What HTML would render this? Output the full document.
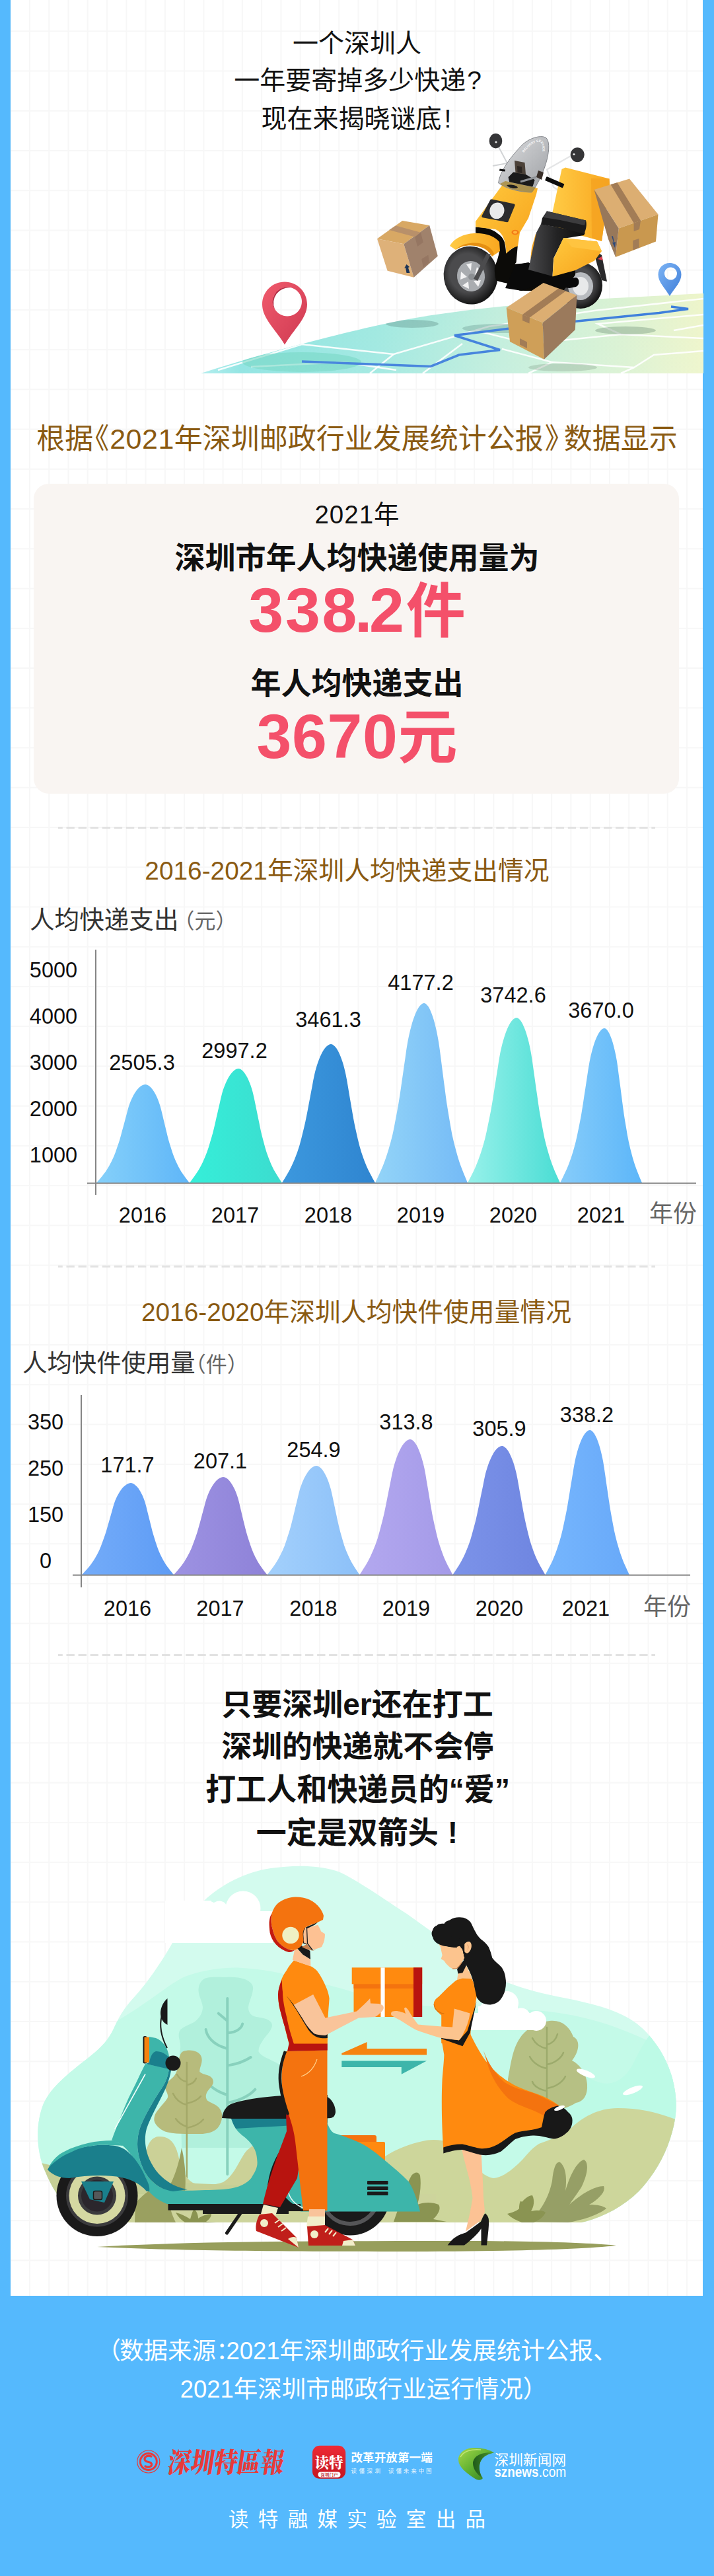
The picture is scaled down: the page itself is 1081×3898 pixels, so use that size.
<!DOCTYPE html>
<html lang="zh-CN">
<head>
<meta charset="utf-8">
<title>一个深圳人一年要寄掉多少快递</title>
<style>
html,body{margin:0;padding:0}
html,body{width:1081px;height:3898px;overflow:hidden}
#page{width:1081px;height:3898px;position:relative;overflow:hidden;background:#55b9fd;
 font-family:"Liberation Sans","Noto Sans CJK SC",sans-serif;color:#111}
#paper{position:absolute;left:16px;top:0;width:1048px;height:3473.5px;background-color:#fff;
 background-image:linear-gradient(to right,#f7f7f7 2px,transparent 2px),linear-gradient(to bottom,#f7f7f7 2px,transparent 2px);
 background-size:29.28px 60.24px;background-position:28px 46.3px}
.c{position:absolute;left:0;width:1081px;text-align:center;white-space:nowrap}
.a{position:absolute;white-space:nowrap}
.hd{font-size:39px;line-height:58px;color:#111}
.gold{color:#8a5a12}
.bold{font-weight:700}
.red{color:#f4506a;font-weight:700}
.bn{font-size:95px;letter-spacing:2.7px}
.dash{position:absolute;left:87.5px;width:904.7px;height:2.6px;background-image:linear-gradient(90deg,#e2e2e2 12px,transparent 12px);background-size:18.08px 100%;background-position:-5.6px 0;background-repeat:repeat-x}
.yl{position:absolute;font-size:32.5px;line-height:40px;width:80px;text-align:center;color:#111}
.vl{position:absolute;font-size:32.5px;line-height:40px;width:140px;text-align:center;color:#111}
.ft{color:#fff;font-size:36.5px;line-height:50px}
svg{position:absolute;left:0;top:0;overflow:visible}
</style>
</head>
<body>
<div id="page">
<div id="paper"></div>

<!-- header -->
<div class="c hd" style="top:37px">一个深圳人</div>
<div class="c hd" style="top:93px;left:1px">一年要寄掉多少快递<span style="margin-left:2px">?</span></div>
<div class="c hd" style="top:151px;left:-1px">现在来揭晓谜底<span style="margin-left:4px">!</span></div>

<!-- HERO_ILLUSTRATION -->
<svg width="1081" height="620" viewBox="0 0 1081 620">
<defs>
<linearGradient id="mapg" x1="304" x2="1065" y1="0" y2="0" gradientUnits="userSpaceOnUse">
<stop offset="0" stop-color="#93e6e6" stop-opacity="0.75"/><stop offset="0.08" stop-color="#8be3e1"/><stop offset="0.35" stop-color="#9ee8e0"/><stop offset="0.6" stop-color="#c2eedc"/><stop offset="0.85" stop-color="#dbf2d2"/><stop offset="1" stop-color="#eef5ca"/>
</linearGradient>
<linearGradient id="mapfade" x1="0" x2="0" y1="440" y2="565" gradientUnits="userSpaceOnUse">
<stop offset="0" stop-color="#fff" stop-opacity="0"/><stop offset="1" stop-color="#fff" stop-opacity="0.08"/></linearGradient>
<clipPath id="mapclip"><path d="M304,565 C400,534 520,503 592,488 C680,470 800,458 913,452 L1065,444 V565Z"/></clipPath>
<linearGradient id="yel" x1="0" x2="1" y1="0" y2="1"><stop offset="0" stop-color="#ffc93e"/><stop offset="1" stop-color="#f7a21b"/></linearGradient>
<linearGradient id="yel2" x1="0" x2="1" y1="0" y2="0"><stop offset="0" stop-color="#ffcb45"/><stop offset="1" stop-color="#f9a720"/></linearGradient>
<linearGradient id="dark" x1="0" x2="1" y1="0" y2="0"><stop offset="0" stop-color="#4a4a4c"/><stop offset="0.5" stop-color="#232324"/><stop offset="1" stop-color="#0c0c0c"/></linearGradient>
<linearGradient id="ws" x1="0" x2="1" y1="0" y2="1"><stop offset="0" stop-color="#d9dadc"/><stop offset="1" stop-color="#8e9196"/></linearGradient>
<radialGradient id="tire" cx="0.45" cy="0.45" r="0.55"><stop offset="0.6" stop-color="#4b4b4d"/><stop offset="1" stop-color="#151515"/></radialGradient>
<linearGradient id="redpin" x1="0" x2="1" y1="0" y2="1"><stop offset="0" stop-color="#f05a6c"/><stop offset="1" stop-color="#cf3a52"/></linearGradient>
<linearGradient id="bluepin" x1="0" x2="1" y1="0" y2="1"><stop offset="0" stop-color="#7db4f5"/><stop offset="1" stop-color="#3f7ed8"/></linearGradient>
<path id="wsarc" d="M793,231 C800,221 809,215 816,214.500 C821,216 822.500,224 821,239"/>
</defs>
<!-- map -->
<g clip-path="url(#mapclip)">
<rect x="300" y="430" width="770" height="140" fill="url(#mapg)"/>
<g fill="none" stroke="#fff" stroke-width="2.5" stroke-opacity="0.9">
<path d="M330,560 L457,521 L596,536 L740,494 L900,470 L1065,452"/>
<path d="M596,536 L560,565"/><path d="M700,520 L640,565"/>
<path d="M760,528 L836,548 L800,565"/><path d="M836,548 L960,556 L990,537 L1065,531"/>
<path d="M720,500 L800,520 L940,506 L1065,512"/><path d="M940,506 L905,490 L1065,476"/>
<path d="M1020,500 L1065,492"/><path d="M960,556 L940,565"/>
<path d="M380,555 L520,548 L600,560"/>
</g>
<ellipse cx="457" cy="548" rx="90" ry="15" fill="#6fd6c2" fill-opacity="0.6"/>
<ellipse cx="624" cy="490" rx="40" ry="6" fill="#5d8f86" fill-opacity="0.4"/>
<ellipse cx="760" cy="497" rx="60" ry="7" fill="#5d8f86" fill-opacity="0.35"/>
<ellipse cx="947" cy="500" rx="46" ry="6" fill="#6f8f76" fill-opacity="0.4"/>
<ellipse cx="852" cy="556" rx="52" ry="6" fill="#6f8f76" fill-opacity="0.3"/>
<path d="M457,547 L652,554.5 L695,537 L757,529.5 L688,507.5 L772,497 L874,486 L998,473.5 L1042,467.5 L1016,464" fill="none" stroke="#3b7ddb" stroke-width="3.6" stroke-linejoin="miter"/>
<rect x="300" y="430" width="770" height="140" fill="url(#mapfade)"/>
</g>
<!-- red pin -->
<path d="M431,426.5 C412,426.5 397,441.5 397,460.5 C397,482 417,498 431,521.5 C445,498 465,482 465,460.5 C465,441.5 450,426.5 431,426.5Z M435,434.5 A22,22 0 1 1 434.9,434.5Z" fill="url(#redpin)" fill-rule="evenodd"/>
<path d="M435,434.5 A22,22 0 0 0 416,468 A22,23 0 0 1 440,436Z" fill="#b52c44"/>
<!-- blue pin -->
<path d="M1014,398 C1004,398 996.5,405.5 996.5,415.5 C996.5,427 1007,436 1014,448 C1021,436 1031.5,427 1031.5,415.5 C1031.5,405.5 1024,398 1014,398Z M1015.5,404.5 A9.5,9.5 0 1 1 1015.4,404.5Z" fill="url(#bluepin)" fill-rule="evenodd"/>
<!-- left box -->
<path d="M571,361.3 L609.3,334 L650.2,341.1 L611.3,369.3Z" fill="#d8a864"/>
<path d="M571,361.3 L611.3,369.3 L626.5,419.7 L586.6,409.7Z" fill="#deb179"/>
<path d="M611.3,369.3 L650.2,341.1 L662.8,387.5 L626.5,419.7Z" fill="#a0826c"/>
<path d="M589.2,347.9 L599.2,341.6 L637,351.7 L628.2,358.5Z" fill="#b8906a"/>
<path d="M628.2,358.5 L637,351.7 L640.8,366.8 L632,373.1Z M638.3,392 L648.4,385.7 L649.7,397 L640.8,404.6Z" fill="#957662"/>
<path d="M615.5,413 l-1.5,-8 l-2,1 l3.5,-6 l4.5,4 l-2,1 l2.5,8Z" fill="#1d3557"/>
<!-- scooter -->
<!-- rear wheel -->
<ellipse cx="879" cy="432" rx="33" ry="35" fill="url(#tire)"/>
<ellipse cx="879" cy="433" rx="19" ry="21" fill="#b9bcc0"/><ellipse cx="879" cy="433" rx="12" ry="14" fill="#e8e9ea"/>
<!-- rear mudguard -->
<path d="M898,378 L911,386 L919,426 L911,424 L905,404Z" fill="#2a2a2c"/>
<path d="M905,392 l6,-4 l2,6z" fill="#e04050"/>
<!-- mirror stems -->
<path d="M751,215 L768,247 L746,251" fill="none" stroke="#d2d4d6" stroke-width="2"/>
<path d="M868.5,233.5 L828,256.5 L838,283 L848,290" fill="none" stroke="#e4e5e6" stroke-width="2.2"/>
<!-- yellow delivery box -->
<path d="M850.5,256 L856,253.5 L922.5,270.5 L923,279 L911,365 L838,345 L836.5,321Z" fill="url(#yel2)"/>
<path d="M895,270 L922.5,270.5 L923,279 L911,365 L896,360Z" fill="#f5a321" fill-opacity="0.85"/>
<!-- front wheel -->
<ellipse cx="712.7" cy="416.6" rx="41" ry="44" fill="url(#tire)" transform="rotate(-8 712.7 416.6)"/>
<ellipse cx="713" cy="418" rx="21" ry="23" fill="#a9acb0" transform="rotate(-8 713 418)"/>
<g fill="#f3f3f4"><path d="M706,400 l8,-2 l-1,12z"/><path d="M722,404 l7,8 l-10,4z"/><path d="M728,424 l-4,10 l-7,-9z"/><path d="M710,437 l-10,-5 l9,-6z"/><path d="M697,423 l1,-12 l9,8z"/></g>
<circle cx="714" cy="419" r="5" fill="#8c8f93"/>
<path d="M737,383 L743,385 L723,425 L717,422Z" fill="#4c4c4e"/>
<!-- black trim + floor -->
<path d="M720,343.500 L733,344.500 C742,346 750,350 753.600,353.500 C759,357 762,361 763.700,366 C765,371 766,377 766,383 L784,370 L781.600,397 L779.400,399.500 L798.400,398.300 L800.700,408.400 L836.500,417.400 L871,409 L871,416 L853,440 L795,440 L787,439.800 C780,436 773,432 767,428.600 C760,427 755,426 751,424 C749,417 748.500,410 749,404 C752,396 755,388 756,380 C756,375 755,371 753.600,367 C750,363 746,360 742.400,357 L720,352.400Z" fill="#0c0b08"/>
<path d="M780,401 L800,397 L836,418 L864,421 L872,420 C878,421 878,432 872,434 L862,436 L818,430 L790,440 L765,436Z" fill="#0a0a0a"/>
<!-- front body yellow -->
<path d="M765,274 L814,285 L812,294 L800,330 L787,352 L784,372.500 C778,374 771,378 766.500,384 C766,366 762,352 750,347 L720,343.500 L720,335 Z" fill="url(#yel)"/>
<!-- fender -->
<path d="M681,372 C688,360 702,354 718,353 C736,352 750,358 756,366 L757,380 L745,388 C741,380 733,374 720,372 C708,370 697,373 690,378Z" fill="url(#yel2)"/>
<path d="M690,378 C697,373 708,370 720,372 C733,374 741,380 745,388 L748,384 C744,372 728,366 712,368 C702,369 694,373 690,378Z" fill="#e58f12"/>
<ellipse cx="780" cy="351.5" rx="5.5" ry="3.8" fill="#f47b16"/><ellipse cx="780" cy="351.5" rx="3" ry="2" fill="#ffb53c"/>
<!-- headlight -->
<path d="M744,303.4 L777.6,310.4 L767.8,334.3 L731.4,327.3Z" fill="#2b2b2d" stroke="#2b2b2d" stroke-width="4" stroke-linejoin="round"/>
<ellipse cx="752.4" cy="318.9" rx="11" ry="12.5" fill="#e9e9ea" transform="rotate(15 752.4 318.9)"/>
<path d="M810.800,354.600 L818.600,349 L809.600,374.800 L803,392.700 L805,374.800Z" fill="#f9a720"/>
<!-- seat column + seat -->
<path d="M819,339 L886,352 L884,356 L853,361 L838,391 L836.5,418 L800,408 L812,352Z" fill="url(#dark)"/>
<path d="M828,319.5 L887,333.5 C889,340 887,349 884,354 L850,345 L819,339.5 L821,330Z" fill="#1b1b1c"/>
<path d="M828,319.5 L887,333.5 L885,341 L848,333 L823,329Z" fill="#3c3c3e"/>
<!-- rear side panel -->
<path d="M853,360 L904,365.5 L911,380 L900,394.5 L871,409 L836.5,418.5 L838.3,391Z" fill="url(#yel)"/>
<path d="M853,360 L904,365.5 L911,380 L866,374Z" fill="#ffc440"/>
<!-- console, handlebars, windshield -->
<path d="M754.7,277 C756,262 770,240 792,218 C802,209 818,204 826,208 C832,212 832,226 828,242 C824,258 814,280 805,291 C794,291 770,288 754.7,277Z" fill="url(#ws)" fill-opacity="0.88" stroke="#85888d" stroke-width="1"/>
<path d="M765,274 L811,283.800 L805.700,290.800 C794,291 772,287 756.600,278.200Z" fill="#a98a35" fill-opacity="0.75"/>
<text font-family="'Liberation Sans',sans-serif" font-size="4.8" font-weight="700" fill="#fff" fill-opacity="0.95"><textPath href="#wsarc">DELIVERY SERVICE</textPath></text>
<path d="M770.600,268.400 L777.600,261.400 L794.400,264.200 L808.500,272.600 L805.700,281.500 L772,274.500Z" fill="#1a1a1b" stroke="#1a1a1b" stroke-width="2" stroke-linejoin="round"/>
<path d="M779,243 L794.5,246 L796,264 L780.5,261.5Z" fill="#4c4239"/><path d="M783,251 L790,252.5 L790.5,262 L783.5,261Z" fill="#2c2622"/>
<path d="M767,280 C772,278.500 782,280 784,283.500 C782,286.500 770,285 767,280Z" fill="#1c1c1d"/>
<path d="M828,268 L853.5,279 L851.5,283.5 L826,272.5Z" fill="#0d0d0d" stroke="#0d0d0d" stroke-width="1.5" stroke-linejoin="round"/>
<path d="M756.5,255.5 L765,256.5 L764.5,259.5 L756,258.5Z" fill="#0d0d0d"/>
<path d="M815,258 L823,261 L820,272 L812,268Z" fill="#3a302a"/>
<path d="M788,275 L812,268" stroke="#8d9095" stroke-width="3" fill="none"/>
<!-- mirrors -->
<ellipse cx="750.5" cy="213.2" rx="9.8" ry="11.2" fill="#353537"/><circle cx="751" cy="215" r="1.6" fill="#e8e8e8"/>
<ellipse cx="874.2" cy="234.2" rx="10.5" ry="11" fill="#353537"/><circle cx="869" cy="233.5" r="1.6" fill="#e8e8e8"/>
<!-- right box -->
<path d="M899.5,287 L953,270.5 L996.5,324.5 L936.7,345.4Z" fill="#dcae72"/>
<path d="M936.7,345.4 L996.5,324.5 L993,365.5 L932,389Z" fill="#c9984f"/>
<path d="M899.5,287 L936.7,345.4 L932,389 L921,362Z" fill="#98785a"/>
<path d="M924.5,279.3 L934.5,276.2 L970,333.8 L959.6,337.4Z" fill="#a27c56"/>
<path d="M959.6,337.4 L970,333.8 L968,347 L959.6,350Z M958.2,364 L967.5,361 L967.5,375 L958.2,378.5Z" fill="#a27c56"/>
<path d="M926,357 l3,10 l-2,0 l4,8 l1,-9 l-2,0.500 l-2,-9z" fill="#2e4a7a"/>
<!-- bottom box -->
<path d="M766.7,465.4 L822.7,428 L873.4,446.7 L821.7,488.3Z" fill="#dcae72"/>
<path d="M766.7,465.4 L821.7,488.3 L823.8,543.8 L772,517.1Z" fill="#cf9f58"/>
<path d="M821.7,488.3 L873.4,446.7 L870.8,499 L823.8,543.8Z" fill="#9b7a5c"/>
<path d="M791,476 L802,480.5 L856.5,440.5 L845.5,436.5Z" fill="#a27c56"/>
<path d="M791,476 L802,480.5 L801.5,489.5 L791,485Z M787,512 L798,517.5 L798,527 L787,521.5Z" fill="#a27c56"/>
</svg>
<!-- /HERO -->

<!-- title 1 -->
<div class="c gold" style="top:634px;font-size:43px;line-height:60px">根据<span style="margin-left:-19px">《</span><span style="letter-spacing:0.5px;margin-left:1px">2021</span>年深圳邮政行业发展统计公报<span style="margin-right:-14px;margin-left:2px">》</span>数据显示</div>

<!-- box -->
<div class="a" style="left:51px;top:732px;width:977px;height:469px;border-radius:23px;background:#f9f5f2"></div>
<div class="c" style="top:754px;font-size:38.5px;line-height:50px"><span style="letter-spacing:1px">2021</span>年</div>
<div class="c bold" style="top:814px;font-size:46px;line-height:60px">深圳市年人均快递使用量为</div>
<div class="c red" style="top:873px;font-size:90px;line-height:100px"><span class="bn">338<span style="margin:0 -7px 0 -6px">.</span>2</span>件</div>
<div class="c bold" style="top:1004px;font-size:46px;line-height:60px">年人均快递支出</div>
<div class="c red" style="top:1064px;font-size:90px;line-height:100px"><span class="bn" style="letter-spacing:0.7px">3670</span>元</div>

<div class="dash" style="top:1251.3px"></div>

<!-- chart 1 -->
<div class="c gold" style="top:1293px;left:-15px;font-size:38.8px;line-height:50px">2016-2021年深圳人均快递支出情况</div>
<div class="a" style="left:45px;top:1367px;font-size:37.6px;line-height:50px;color:#333">人均快递支出<span style="font-size:32px;color:#666;margin-left:8px;position:relative;top:0px"><span style="margin-left:-16px">（</span>元<span style="margin-right:-16px">）</span></span></div>
<!-- CHART1 -->
<svg width="1081" height="3898" viewBox="0 0 1081 3898"><defs><linearGradient id="g10" x1="0" x2="1" y1="0" y2="0"><stop offset="0" stop-color="#85d0fa"/><stop offset="1" stop-color="#5fb6f8"/></linearGradient><linearGradient id="g11" x1="0" x2="1" y1="0" y2="0"><stop offset="0" stop-color="#35efd9"/><stop offset="1" stop-color="#3cdccf"/></linearGradient><linearGradient id="g12" x1="0" x2="1" y1="0" y2="0"><stop offset="0" stop-color="#3c98de"/><stop offset="1" stop-color="#2f85d0"/></linearGradient><linearGradient id="g13" x1="0" x2="1" y1="0" y2="0"><stop offset="0" stop-color="#93d4f8"/><stop offset="1" stop-color="#74baf6"/></linearGradient><linearGradient id="g14" x1="0" x2="1" y1="0" y2="0"><stop offset="0" stop-color="#97f1ea"/><stop offset="1" stop-color="#4addd4"/></linearGradient><linearGradient id="g15" x1="0" x2="1" y1="0" y2="0"><stop offset="0" stop-color="#86ccfa"/><stop offset="1" stop-color="#5cb6f9"/></linearGradient></defs>
<path d="M146.0,1790.0 C147.9,1787.6 154.4,1780.3 157.7,1775.8 C161.0,1771.4 163.3,1767.5 165.8,1763.2 C168.2,1758.9 170.3,1754.5 172.2,1750.2 C174.1,1745.9 175.4,1741.7 176.9,1737.4 C178.4,1733.1 180.0,1728.7 181.3,1724.4 C182.6,1720.1 183.7,1715.9 184.8,1711.6 C186.0,1707.4 187.1,1703.1 188.3,1698.8 C189.4,1694.5 190.5,1690.3 191.7,1686.0 C192.8,1681.7 193.7,1677.5 195.2,1673.2 C196.7,1668.9 198.5,1664.2 200.5,1660.4 C202.4,1656.5 204.7,1652.7 206.8,1649.9 C209.0,1647.1 211.1,1645.0 213.3,1643.5 C215.5,1642.0 217.9,1641.0 220.0,1641.0 C222.1,1641.0 224.1,1642.0 226.1,1643.5 C228.1,1645.0 230.0,1647.1 231.9,1649.9 C233.9,1652.7 235.9,1656.5 237.7,1660.4 C239.4,1664.2 241.1,1668.9 242.4,1673.2 C243.8,1677.5 244.6,1681.7 245.7,1686.0 C246.7,1690.3 247.7,1694.5 248.7,1698.8 C249.8,1703.1 250.8,1707.4 251.8,1711.6 C252.9,1715.9 253.8,1720.1 255.0,1724.4 C256.2,1728.7 257.6,1733.1 259.0,1737.4 C260.4,1741.7 261.6,1745.9 263.3,1750.2 C265.0,1754.5 266.9,1758.9 269.1,1763.2 C271.3,1767.5 273.4,1771.4 276.4,1775.8 C279.4,1780.3 285.2,1787.6 287.0,1790.0Z" fill="url(#g10)"/>
<path d="M287.0,1790.0 C288.9,1787.3 295.4,1778.8 298.7,1773.6 C302.0,1768.4 304.3,1763.8 306.8,1758.9 C309.2,1753.9 311.3,1748.8 313.2,1743.8 C315.1,1738.8 316.4,1733.9 317.9,1728.9 C319.4,1723.9 321.0,1718.9 322.3,1713.9 C323.6,1708.9 324.7,1704.0 325.9,1699.0 C327.0,1694.0 328.1,1689.1 329.3,1684.1 C330.4,1679.2 331.5,1674.2 332.7,1669.2 C333.8,1664.3 334.7,1659.3 336.2,1654.4 C337.7,1649.4 339.5,1644.0 341.5,1639.5 C343.4,1635.0 345.7,1630.6 347.8,1627.4 C350.0,1624.1 352.1,1621.7 354.3,1619.9 C356.5,1618.2 358.9,1617.0 361.0,1617.0 C363.1,1617.0 365.0,1618.2 367.0,1619.9 C369.0,1621.7 370.8,1624.1 372.7,1627.4 C374.7,1630.6 376.7,1635.0 378.4,1639.5 C380.2,1644.0 381.8,1649.4 383.1,1654.4 C384.4,1659.3 385.2,1664.3 386.3,1669.2 C387.3,1674.2 388.3,1679.2 389.3,1684.1 C390.3,1689.1 391.3,1694.0 392.4,1699.0 C393.4,1704.0 394.3,1708.9 395.5,1713.9 C396.7,1718.9 398.1,1723.9 399.4,1728.9 C400.8,1733.9 402.0,1738.8 403.6,1743.8 C405.3,1748.8 407.2,1753.9 409.4,1758.9 C411.5,1763.8 413.6,1768.4 416.6,1773.6 C419.5,1778.8 425.3,1787.3 427.0,1790.0Z" fill="url(#g11)"/>
<path d="M427.0,1790.0 C428.9,1786.7 435.4,1776.3 438.7,1770.0 C442.0,1763.8 444.3,1758.2 446.8,1752.2 C449.2,1746.2 451.3,1740.0 453.2,1733.9 C455.1,1727.9 456.4,1721.9 457.9,1715.9 C459.4,1709.8 461.0,1703.7 462.3,1697.6 C463.6,1691.5 464.7,1685.6 465.9,1679.5 C467.0,1673.5 468.1,1667.5 469.3,1661.5 C470.4,1655.5 471.5,1649.4 472.7,1643.4 C473.8,1637.4 474.7,1631.4 476.2,1625.4 C477.7,1619.3 479.5,1612.8 481.5,1607.3 C483.4,1601.8 485.7,1596.6 487.8,1592.6 C490.0,1588.6 492.1,1585.7 494.3,1583.6 C496.5,1581.5 498.9,1580.0 501.0,1580.0 C503.1,1580.0 505.1,1581.5 507.1,1583.6 C509.1,1585.7 511.0,1588.6 512.9,1592.6 C514.9,1596.6 516.9,1601.8 518.7,1607.3 C520.4,1612.8 522.1,1619.3 523.4,1625.4 C524.8,1631.4 525.6,1637.4 526.7,1643.4 C527.7,1649.4 528.7,1655.5 529.7,1661.5 C530.8,1667.5 531.8,1673.5 532.8,1679.5 C533.9,1685.6 534.8,1691.5 536.0,1697.6 C537.2,1703.7 538.6,1709.8 540.0,1715.9 C541.4,1721.9 542.6,1727.9 544.3,1733.9 C546.0,1740.0 547.9,1746.2 550.1,1752.2 C552.3,1758.2 554.4,1763.8 557.4,1770.0 C560.4,1776.3 566.2,1786.7 568.0,1790.0Z" fill="url(#g12)"/>
<path d="M568.0,1790.0 C569.9,1785.7 576.4,1772.3 579.7,1764.2 C583.0,1756.0 585.3,1748.8 587.8,1741.0 C590.2,1733.2 592.3,1725.2 594.2,1717.4 C596.1,1709.5 597.4,1701.8 598.9,1694.0 C600.4,1686.1 602.0,1678.2 603.3,1670.3 C604.6,1662.5 605.7,1654.7 606.9,1646.9 C608.0,1639.1 609.1,1631.3 610.3,1623.5 C611.4,1615.7 612.5,1607.9 613.7,1600.1 C614.8,1592.3 615.7,1584.5 617.2,1576.8 C618.7,1569.0 620.5,1560.4 622.5,1553.4 C624.4,1546.3 626.7,1539.4 628.8,1534.3 C631.0,1529.2 633.1,1525.3 635.3,1522.6 C637.5,1519.9 639.9,1518.0 642.0,1518.0 C644.1,1518.0 646.0,1519.9 648.0,1522.6 C650.0,1525.3 651.8,1529.2 653.7,1534.3 C655.7,1539.4 657.7,1546.3 659.4,1553.4 C661.2,1560.4 662.8,1569.0 664.1,1576.8 C665.4,1584.5 666.2,1592.3 667.3,1600.1 C668.3,1607.9 669.3,1615.7 670.3,1623.5 C671.3,1631.3 672.3,1639.1 673.4,1646.9 C674.4,1654.7 675.3,1662.5 676.5,1670.3 C677.7,1678.2 679.1,1686.1 680.4,1694.0 C681.8,1701.8 683.0,1709.5 684.6,1717.4 C686.3,1725.2 688.2,1733.2 690.4,1741.0 C692.5,1748.8 694.6,1756.0 697.6,1764.2 C700.5,1772.3 706.3,1785.7 708.0,1790.0Z" fill="url(#g13)"/>
<path d="M708.0,1790.0 C709.9,1786.0 716.4,1773.8 719.7,1766.2 C723.0,1758.8 725.3,1752.2 727.8,1745.0 C730.2,1737.8 732.3,1730.5 734.2,1723.2 C736.1,1716.0 737.4,1709.0 738.9,1701.8 C740.4,1694.5 742.0,1687.2 743.3,1680.0 C744.6,1672.8 745.7,1665.7 746.9,1658.5 C748.0,1651.3 749.1,1644.2 750.3,1637.0 C751.4,1629.8 752.5,1622.7 753.7,1615.5 C754.8,1608.3 755.7,1601.2 757.2,1594.0 C758.7,1586.8 760.5,1579.0 762.5,1572.5 C764.4,1566.0 766.7,1559.7 768.8,1555.0 C771.0,1550.3 773.1,1546.8 775.3,1544.2 C777.5,1541.8 779.9,1540.0 782.0,1540.0 C784.1,1540.0 786.0,1541.8 788.0,1544.2 C790.0,1546.8 791.8,1550.3 793.7,1555.0 C795.7,1559.7 797.7,1566.0 799.4,1572.5 C801.2,1579.0 802.8,1586.8 804.1,1594.0 C805.4,1601.2 806.2,1608.3 807.3,1615.5 C808.3,1622.7 809.3,1629.8 810.3,1637.0 C811.3,1644.2 812.3,1651.3 813.4,1658.5 C814.4,1665.7 815.3,1672.8 816.5,1680.0 C817.7,1687.2 819.1,1694.5 820.4,1701.8 C821.8,1709.0 823.0,1716.0 824.6,1723.2 C826.3,1730.5 828.2,1737.8 830.4,1745.0 C832.5,1752.2 834.6,1758.8 837.6,1766.2 C840.5,1773.8 846.3,1786.0 848.0,1790.0Z" fill="url(#g14)"/>
<path d="M848.0,1790.0 C849.8,1786.3 855.6,1774.8 858.6,1767.8 C861.6,1760.8 863.7,1754.6 865.9,1747.9 C868.1,1741.2 870.0,1734.3 871.7,1727.5 C873.4,1720.8 874.6,1714.1 876.0,1707.4 C877.4,1700.7 878.8,1693.8 880.0,1687.0 C881.2,1680.3 882.1,1673.6 883.2,1666.9 C884.2,1660.2 885.2,1653.5 886.3,1646.8 C887.3,1640.1 888.3,1633.4 889.3,1626.7 C890.4,1620.0 891.2,1613.3 892.6,1606.5 C893.9,1599.8 895.6,1592.5 897.3,1586.4 C899.1,1580.3 901.1,1574.4 903.1,1570.0 C905.0,1565.6 906.9,1562.3 908.9,1560.0 C910.9,1557.6 913.1,1556.0 915.0,1556.0 C916.9,1556.0 918.5,1557.6 920.2,1560.0 C921.9,1562.3 923.5,1565.6 925.1,1570.0 C926.8,1574.4 928.6,1580.3 930.0,1586.4 C931.5,1592.5 933.0,1599.8 934.1,1606.5 C935.2,1613.3 935.9,1620.0 936.8,1626.7 C937.7,1633.4 938.6,1640.1 939.5,1646.8 C940.3,1653.5 941.2,1660.2 942.1,1666.9 C943.0,1673.6 943.8,1680.3 944.8,1687.0 C945.8,1693.8 947.0,1700.7 948.2,1707.4 C949.3,1714.1 950.4,1720.8 951.8,1727.5 C953.3,1734.3 954.9,1741.2 956.8,1747.9 C958.6,1754.6 960.5,1760.8 963.0,1767.8 C965.5,1774.8 970.5,1786.3 972.0,1790.0Z" fill="url(#g15)"/>
<path d="M145,1437V1808M132,1790.5H1054" stroke="#858585" stroke-width="2" fill="none"/>
</svg>
<div class="yl" style="left:41px;top:1448px">5000</div>
<div class="yl" style="left:41px;top:1518px">4000</div>
<div class="yl" style="left:41px;top:1588px">3000</div>
<div class="yl" style="left:41px;top:1658px">2000</div>
<div class="yl" style="left:41px;top:1728px">1000</div>
<div class="vl" style="left:145px;top:1588px">2505.3</div>
<div class="vl" style="left:285px;top:1570px">2997.2</div>
<div class="vl" style="left:427px;top:1523px">3461.3</div>
<div class="vl" style="left:567px;top:1467px">4177.2</div>
<div class="vl" style="left:707px;top:1486px">3742.6</div>
<div class="vl" style="left:840px;top:1509px">3670.0</div>
<div class="vl" style="left:146px;top:1819px">2016</div>
<div class="vl" style="left:286px;top:1819px">2017</div>
<div class="vl" style="left:427px;top:1819px">2018</div>
<div class="vl" style="left:567px;top:1819px">2019</div>
<div class="vl" style="left:707px;top:1819px">2020</div>
<div class="vl" style="left:840px;top:1819px">2021</div>
<div class="a" style="left:983px;top:1812px;font-size:36px;line-height:50px;color:#666">年份</div>
<!-- /CHART1 -->

<div class="dash" style="top:1915.3px"></div>

<!-- chart 2 -->
<div class="c gold" style="top:1961px;left:-1px;font-size:38.8px;line-height:50px">2016-2020年深圳人均快件使用量情况</div>
<div class="a" style="left:34px;top:2038px;font-size:37.4px;line-height:50px;color:#333">人均快件使用量<span style="font-size:32px;color:#666;margin-left:0px;position:relative;top:0px"><span style="margin-left:-16px">（</span>件<span style="margin-right:-16px">）</span></span></div>
<!-- CHART2 -->
<svg width="1081" height="3898" viewBox="0 0 1081 3898"><defs><linearGradient id="g20" x1="0" x2="1" y1="0" y2="0"><stop offset="0" stop-color="#74acf9"/><stop offset="1" stop-color="#5e9cf5"/></linearGradient><linearGradient id="g21" x1="0" x2="1" y1="0" y2="0"><stop offset="0" stop-color="#9d92e2"/><stop offset="1" stop-color="#8e82d8"/></linearGradient><linearGradient id="g22" x1="0" x2="1" y1="0" y2="0"><stop offset="0" stop-color="#a3d0fc"/><stop offset="1" stop-color="#8cc0f8"/></linearGradient><linearGradient id="g23" x1="0" x2="1" y1="0" y2="0"><stop offset="0" stop-color="#b3a8ef"/><stop offset="1" stop-color="#a49ae8"/></linearGradient><linearGradient id="g24" x1="0" x2="1" y1="0" y2="0"><stop offset="0" stop-color="#7c93e9"/><stop offset="1" stop-color="#6e85e0"/></linearGradient><linearGradient id="g25" x1="0" x2="1" y1="0" y2="0"><stop offset="0" stop-color="#76b6fd"/><stop offset="1" stop-color="#68a9f9"/></linearGradient></defs>
<path d="M124.0,2383.0 C125.9,2380.8 132.4,2374.0 135.7,2369.8 C139.0,2365.6 141.3,2362.0 143.8,2358.0 C146.2,2354.0 148.3,2349.9 150.2,2345.9 C152.1,2341.9 153.4,2337.9 154.9,2333.9 C156.4,2329.9 158.0,2325.8 159.3,2321.8 C160.6,2317.8 161.7,2313.9 162.8,2309.9 C164.0,2305.9 165.1,2301.9 166.3,2297.9 C167.4,2293.9 168.5,2290.0 169.7,2286.0 C170.8,2282.0 171.7,2278.0 173.2,2274.0 C174.7,2270.0 176.5,2265.7 178.5,2262.1 C180.4,2258.5 182.7,2255.0 184.8,2252.3 C187.0,2249.7 189.1,2247.8 191.3,2246.4 C193.5,2245.0 195.9,2244.0 198.0,2244.0 C200.1,2244.0 202.0,2245.0 203.9,2246.4 C205.8,2247.8 207.7,2249.7 209.6,2252.3 C211.4,2255.0 213.5,2258.5 215.2,2262.1 C216.9,2265.7 218.5,2270.0 219.8,2274.0 C221.1,2278.0 221.9,2282.0 222.9,2286.0 C223.9,2290.0 224.9,2293.9 225.9,2297.9 C226.9,2301.9 227.9,2305.9 228.9,2309.9 C229.9,2313.9 230.8,2317.8 232.0,2321.8 C233.2,2325.8 234.5,2329.9 235.8,2333.9 C237.2,2337.9 238.4,2341.9 240.0,2345.9 C241.6,2349.9 243.5,2354.0 245.6,2358.0 C247.8,2362.0 249.8,2365.6 252.7,2369.8 C255.6,2374.0 261.3,2380.8 263.0,2383.0Z" fill="url(#g20)"/>
<path d="M263.0,2383.0 C265.0,2380.7 271.5,2373.4 274.9,2368.9 C278.2,2364.5 280.6,2360.6 283.0,2356.4 C285.5,2352.1 287.7,2347.8 289.6,2343.5 C291.4,2339.2 292.8,2335.0 294.4,2330.8 C295.9,2326.5 297.4,2322.1 298.8,2317.9 C300.1,2313.6 301.2,2309.4 302.4,2305.2 C303.6,2300.9 304.7,2296.7 305.8,2292.4 C307.0,2288.2 308.1,2283.9 309.3,2279.7 C310.4,2275.5 311.4,2271.2 312.9,2267.0 C314.4,2262.7 316.2,2258.1 318.2,2254.2 C320.2,2250.4 322.5,2246.7 324.6,2243.9 C326.8,2241.1 328.9,2239.0 331.2,2237.5 C333.4,2236.0 335.9,2235.0 338.0,2235.0 C340.1,2235.0 342.1,2236.0 344.1,2237.5 C346.0,2239.0 347.9,2241.1 349.8,2243.9 C351.8,2246.7 353.8,2250.4 355.6,2254.2 C357.3,2258.1 359.0,2262.7 360.3,2267.0 C361.6,2271.2 362.4,2275.5 363.5,2279.7 C364.5,2283.9 365.5,2288.2 366.5,2292.4 C367.5,2296.7 368.5,2300.9 369.6,2305.2 C370.6,2309.4 371.6,2313.6 372.8,2317.9 C374.0,2322.1 375.3,2326.5 376.7,2330.8 C378.1,2335.0 379.3,2339.2 381.0,2343.5 C382.6,2347.8 384.6,2352.1 386.7,2356.4 C388.9,2360.6 391.0,2364.5 394.0,2368.9 C397.0,2373.4 402.7,2380.7 404.5,2383.0Z" fill="url(#g21)"/>
<path d="M404.5,2383.0 C406.5,2380.4 413.0,2372.3 416.3,2367.3 C419.6,2362.4 422.0,2358.0 424.4,2353.3 C426.8,2348.6 429.0,2343.7 430.9,2338.9 C432.7,2334.2 434.1,2329.5 435.6,2324.8 C437.2,2320.0 438.7,2315.2 440.0,2310.4 C441.4,2305.6 442.4,2300.9 443.6,2296.2 C444.8,2291.5 445.9,2286.8 447.0,2282.0 C448.2,2277.3 449.3,2272.6 450.5,2267.8 C451.6,2263.1 452.6,2258.4 454.0,2253.6 C455.5,2248.9 457.4,2243.7 459.3,2239.4 C461.3,2235.2 463.6,2231.0 465.7,2227.9 C467.9,2224.8 470.0,2222.5 472.2,2220.8 C474.4,2219.2 476.9,2218.0 479.0,2218.0 C481.1,2218.0 483.0,2219.2 485.0,2220.8 C486.9,2222.5 488.8,2224.8 490.7,2227.9 C492.5,2231.0 494.6,2235.2 496.3,2239.4 C498.0,2243.7 499.6,2248.9 500.9,2253.6 C502.2,2258.4 503.1,2263.1 504.1,2267.8 C505.1,2272.6 506.1,2277.3 507.1,2282.0 C508.1,2286.8 509.1,2291.5 510.1,2296.2 C511.1,2300.9 512.1,2305.6 513.3,2310.4 C514.4,2315.2 515.8,2320.0 517.1,2324.8 C518.5,2329.5 519.7,2334.2 521.3,2338.9 C523.0,2343.7 524.9,2348.6 527.0,2353.3 C529.2,2358.0 531.2,2362.4 534.2,2367.3 C537.1,2372.3 542.8,2380.4 544.5,2383.0Z" fill="url(#g22)"/>
<path d="M544.5,2383.0 C546.5,2379.8 553.2,2369.7 556.6,2363.5 C560.0,2357.4 562.4,2352.0 564.9,2346.1 C567.4,2340.2 569.7,2334.2 571.6,2328.3 C573.5,2322.4 574.9,2316.5 576.5,2310.6 C578.0,2304.7 579.6,2298.7 581.0,2292.8 C582.4,2286.9 583.5,2281.0 584.7,2275.2 C585.9,2269.3 587.0,2263.4 588.2,2257.5 C589.4,2251.7 590.5,2245.8 591.7,2239.9 C592.9,2234.0 593.9,2228.2 595.4,2222.3 C596.9,2216.4 598.8,2210.0 600.8,2204.7 C602.8,2199.3 605.2,2194.2 607.4,2190.3 C609.6,2186.4 611.8,2183.5 614.0,2181.5 C616.3,2179.4 618.9,2178.0 621.0,2178.0 C623.1,2178.0 625.0,2179.4 626.9,2181.5 C628.8,2183.5 630.6,2186.4 632.5,2190.3 C634.3,2194.2 636.3,2199.3 638.0,2204.7 C639.7,2210.0 641.3,2216.4 642.6,2222.3 C643.9,2228.2 644.7,2234.0 645.7,2239.9 C646.7,2245.8 647.7,2251.7 648.7,2257.5 C649.7,2263.4 650.6,2269.3 651.6,2275.2 C652.6,2281.0 653.6,2286.9 654.7,2292.8 C655.9,2298.7 657.2,2304.7 658.5,2310.6 C659.9,2316.5 661.0,2322.4 662.7,2328.3 C664.3,2334.2 666.2,2340.2 668.3,2346.1 C670.4,2352.0 672.4,2357.4 675.3,2363.5 C678.2,2369.7 683.8,2379.8 685.5,2383.0Z" fill="url(#g23)"/>
<path d="M685.5,2383.0 C687.5,2379.9 694.0,2370.3 697.3,2364.5 C700.6,2358.6 703.0,2353.5 705.4,2347.9 C707.8,2342.3 710.0,2336.6 711.9,2330.9 C713.7,2325.3 715.1,2319.8 716.6,2314.2 C718.2,2308.5 719.7,2302.8 721.0,2297.2 C722.4,2291.6 723.4,2286.0 724.6,2280.4 C725.8,2274.8 726.9,2269.2 728.0,2263.7 C729.2,2258.1 730.3,2252.5 731.5,2246.9 C732.6,2241.3 733.6,2235.7 735.0,2230.1 C736.5,2224.5 738.4,2218.4 740.3,2213.3 C742.3,2208.3 744.6,2203.4 746.7,2199.7 C748.9,2196.0 751.0,2193.3 753.2,2191.3 C755.4,2189.4 757.9,2188.0 760.0,2188.0 C762.1,2188.0 764.0,2189.4 766.0,2191.3 C767.9,2193.3 769.8,2196.0 771.7,2199.7 C773.5,2203.4 775.6,2208.3 777.3,2213.3 C779.0,2218.4 780.6,2224.5 781.9,2230.1 C783.2,2235.7 784.1,2241.3 785.1,2246.9 C786.1,2252.5 787.1,2258.1 788.1,2263.7 C789.1,2269.2 790.1,2274.8 791.1,2280.4 C792.1,2286.0 793.1,2291.6 794.3,2297.2 C795.4,2302.8 796.8,2308.5 798.1,2314.2 C799.5,2319.8 800.7,2325.3 802.3,2330.9 C804.0,2336.6 805.9,2342.3 808.0,2347.9 C810.2,2353.5 812.2,2358.6 815.2,2364.5 C818.1,2370.3 823.8,2379.9 825.5,2383.0Z" fill="url(#g24)"/>
<path d="M825.5,2383.0 C827.3,2379.5 833.2,2368.8 836.2,2362.2 C839.2,2355.6 841.3,2349.9 843.5,2343.6 C845.7,2337.3 847.7,2330.8 849.4,2324.5 C851.1,2318.2 852.3,2312.0 853.7,2305.7 C855.1,2299.4 856.5,2293.0 857.7,2286.6 C858.9,2280.3 859.9,2274.1 860.9,2267.8 C862.0,2261.5 863.0,2255.2 864.0,2249.0 C865.1,2242.7 866.1,2236.4 867.1,2230.1 C868.2,2223.9 869.0,2217.6 870.4,2211.3 C871.7,2205.0 873.4,2198.2 875.2,2192.5 C876.9,2186.8 879.0,2181.3 881.0,2177.1 C882.9,2173.0 884.9,2169.9 886.9,2167.7 C888.9,2165.5 891.1,2164.0 893.0,2164.0 C894.9,2164.0 896.7,2165.5 898.5,2167.7 C900.2,2169.9 901.9,2173.0 903.7,2177.1 C905.4,2181.3 907.3,2186.8 908.8,2192.5 C910.4,2198.2 911.9,2205.0 913.1,2211.3 C914.3,2217.6 915.0,2223.9 916.0,2230.1 C916.9,2236.4 917.8,2242.7 918.7,2249.0 C919.7,2255.2 920.6,2261.5 921.5,2267.8 C922.4,2274.1 923.3,2280.3 924.4,2286.6 C925.5,2293.0 926.7,2299.4 927.9,2305.7 C929.1,2312.0 930.2,2318.2 931.8,2324.5 C933.3,2330.8 935.0,2337.3 937.0,2343.6 C938.9,2349.9 940.9,2355.6 943.5,2362.2 C946.2,2368.8 951.4,2379.5 953.0,2383.0Z" fill="url(#g25)"/>
<path d="M123,2111V2402M110,2383.5H1045" stroke="#858585" stroke-width="2" fill="none"/>
</svg>
<div class="yl" style="left:29px;top:2132px">350</div>
<div class="yl" style="left:29px;top:2202px">250</div>
<div class="yl" style="left:29px;top:2272px">150</div>
<div class="yl" style="left:29px;top:2342px">0</div>
<div class="vl" style="left:123px;top:2197px">171.7</div>
<div class="vl" style="left:263.5px;top:2191px">207.1</div>
<div class="vl" style="left:405px;top:2174px">254.9</div>
<div class="vl" style="left:545px;top:2131.5px">313.8</div>
<div class="vl" style="left:686px;top:2142px">305.9</div>
<div class="vl" style="left:818.5px;top:2121px">338.2</div>
<div class="vl" style="left:123px;top:2414px">2016</div>
<div class="vl" style="left:263.5px;top:2414px">2017</div>
<div class="vl" style="left:404.5px;top:2414px">2018</div>
<div class="vl" style="left:545px;top:2414px">2019</div>
<div class="vl" style="left:686px;top:2414px">2020</div>
<div class="vl" style="left:817px;top:2414px">2021</div>
<div class="a" style="left:974px;top:2407px;font-size:36px;line-height:50px;color:#666">年份</div>
<!-- /CHART2 -->

<div class="dash" style="top:2503px"></div>

<!-- slogan -->
<div class="c bold" style="top:2545.5px;left:0.5px;font-size:46px;line-height:66px">只要深圳er还在打工</div>
<div class="c bold" style="top:2611px;left:1px;font-size:45.8px;line-height:66px">深圳的快递就不会停</div>
<div class="c bold" style="top:2674.5px;left:1px;font-size:46.1px;line-height:66px">打工人和快递员的“爱”</div>
<div class="c bold" style="top:2740px;left:0px;font-size:46px;line-height:66px">一定是双箭头<span style="margin-left:14px">!</span></div>

<!-- COUPLE_ILLUSTRATION -->
<svg width="1081" height="680" viewBox="0 2800 1081 680" style="top:2800px">
<defs>
<clipPath id="blobclip"><path id="blobp" d="M261,2940 C275,2915 290,2893 309,2876 C335,2852 370,2833 410,2827 C445,2822 480,2822 509,2831 C530,2838 570,2866 616,2896 L740,2985 C760,3000 800,3012 843,3021 C890,3030 935,3040 964,3062 C990,3082 1010,3115 1018,3145 C1026,3175 1025,3200 1018,3225 C1008,3262 990,3292 967,3316 C945,3338 915,3354 887,3361.500 L880,3363 L130,3363 C100,3345 80,3315 68,3285 C55,3255 53,3215 66,3183 C78,3158 100,3140 136,3112 C155,3097 165,3085 172,3070 C180,3052 188,3038 205,3020 C222,3002 245,2968 261,2940Z"/></clipPath>
</defs>
<use href="#blobp" fill="#d3fbee"/>
<g clip-path="url(#blobclip)">
<!-- lighter/darker mint waves -->
<path d="M40,3160 C100,3110 150,3075 200,3044 C240,3018 260,3000 280,2991 C310,2980 340,2977 360,2977.600 C390,2979 410,2983 423,2985.600 C460,2994 490,3002 520,3010 C600,3036 680,3040 760,3040 C860,3040 940,3060 1040,3120 V3370 H40Z" fill="#c4fae8"/>
<path d="M840,3090 C880,3150 930,3180 960,3120 C975,3090 985,3075 1000,3060 L1040,3100 V3250 H840Z" fill="#bdfae6"/>
<!-- mint tree left -->
<path d="M341,2992 C352,2991 363,2992 371,2995 C380,2999 384,3004 383,3010.500 C382,3020 377,3028 376,3037 C376,3044 379,3049 384.500,3051 C392,3053 399,3053 405,3056 C411,3059 413,3063 411.500,3067.500 C409,3075 402,3081 398,3087.500 C394,3093 391,3099 391.500,3104.500 C395,3111 404,3114 411.500,3118 C420,3122 426,3125 430,3130 L440,3250 L275,3250 L272,3105 C274,3099 273,3093 272,3087.500 C270,3081 270,3075 273.500,3071 C280,3065 291,3063 297,3057.500 C303,3052 307,3045 307,3037 C306,3028 300,3019 300.500,3010.500 C301,3002 305,2996 311,2993.500 C320,2991 331,2992 341,2992Z" fill="#b1f0dc"/>
<path d="M344.300,3024 V3290 M330.800,3046.700 L343.600,3057.500 M367.100,3062.500 C366,3069 358,3075 346,3076 M311.700,3071 C313,3081 322,3094 342.600,3099.500 M379.600,3113 C372,3118 360,3123 346,3125.400 M319,3156.600 C326,3163 334,3167 343.600,3170 M386.300,3161.700 C378,3171 364,3178 346,3181.800" fill="none" stroke="#88d1bd" stroke-width="4" stroke-linecap="round"/>
<!-- olive bush left -->
<path d="M282,3103 C288,3102 293,3103 297,3104.500 C303,3107 306,3112 305.600,3118 C305.500,3124 302,3129 302.300,3135 C306,3139 313,3139 317.400,3141.500 C322,3144 324,3149 322.400,3153.300 C320,3159 314,3163 312.400,3168.400 C311,3172 312,3176 314,3178.500 C319,3182 326,3184 330.800,3188.600 C335,3193 337,3199 335.900,3205.400 C335,3212 332,3218 327.500,3222 C321,3227 312,3229 304,3229 L280.400,3229 C270,3229 259,3228 250,3225.500 C242,3222 235,3216 233.400,3208.700 C233,3202 236,3196 240,3192 C244,3186 250,3181 253.500,3175 C256,3169 250,3164 250,3158.300 C251,3151 259,3147 263.600,3141.500 C267,3137 268,3132 270,3128 C270,3120 271,3112 274,3107 C276,3104 279,3103 282,3103Z" fill="#b7bb7c"/>
<path d="M282.800,3121 V3300 M282.800,3150 C276,3149 271,3145 268,3139 M282.800,3155 C290,3154 295,3150 297,3145 M282.800,3185 C274,3183 266,3177 262,3168 M282.800,3183 C292,3181 300,3177 304,3172 M282.800,3218 C276,3216 270,3212 266,3206 M282.800,3220 C294,3218 303,3213 308,3207" fill="none" stroke="#a3a868" stroke-width="2.500" stroke-linecap="round"/>
<!-- light olive ground bushes -->
<path d="M215,3320 C215,3255 225,3234 240,3233 C258,3232 266,3245 270,3262 C274,3280 280,3296 292,3303 C305,3307 325,3307 338,3302 C352,3294 360,3275 368,3262 C375,3250 385,3244 400,3242 C430,3244 440,3262 445,3290 L450,3330 H215Z" fill="#cbd197"/>
<!-- olive tree right -->
<path d="M769,3146 C774,3120 776,3098 790,3080 C800,3068 815,3060 832,3058 C850,3056 862,3066 868,3082 C880,3088 876,3106 866,3118 C878,3124 888,3138 889,3154 C890,3170 884,3180 872,3182 C860,3190 840,3196 820,3194 C795,3196 775,3186 770,3170Z" fill="#b6c084"/>
<path d="M828,3068 V3230 M828,3100 C818,3098 810,3092 806,3084 M828,3094 C836,3092 842,3086 844,3078 M828,3130 C816,3128 806,3120 802,3112 M828,3124 C840,3122 850,3114 853,3106 M828,3164 C816,3162 808,3156 806,3150 M828,3160 C842,3158 852,3150 856,3142" fill="none" stroke="#9caa6c" stroke-width="2.500" stroke-linecap="round"/>
<!-- hills -->
<path d="M1040,3215 C1010,3200 975,3190 935,3190 C905,3190 880,3205 865,3220 C850,3232 832,3238 816,3244 C806,3250 798,3260 791,3268 C782,3277 774,3284 766,3289 C760,3293 753,3296 747,3296 C740,3295 734,3291 730,3288 C715,3270 700,3250 680,3242 C668,3237 650,3237 640,3240 C620,3244 600,3252 583,3263 L570,3275 V3370 H1040Z" fill="#cdd69b"/>
<path d="M50,3270 C90,3280 140,3290 200,3300 L440,3310 V3370 H50Z" fill="#c6cf95"/>
<path d="M190,3320 H660 V3370 H190Z" fill="#cdd49c"/>
<path d="M205,3334 C212,3326 220,3318 228,3314 C238,3314 246,3316 252,3320 C254,3328 256,3336 258,3342 C260,3350 263,3357 266,3363 H204Z" fill="#9aa060"/>
<path d="M266,3348 C274,3350 282,3354 288,3358 C290,3352 291,3346 294,3343 C298,3346 300,3352 300,3357 C306,3353 314,3350 320,3350 C320,3355 316,3359 312,3362 L328,3363 H280 C274,3359 269,3354 266,3348Z" fill="#8a9350"/>

<!-- plants -->
<path d="M275,3250 C270,3280 262,3300 250,3320 L280,3318 C282,3295 280,3270 275,3250Z" fill="#9aa060"/>
<path d="M596,3362 C604,3340 612,3312 623,3292 C628,3286 634,3286 636,3292 C638,3306 636,3322 632,3336 C642,3332 655,3332 664,3336 C668,3342 664,3350 656,3358 L676,3362Z" fill="#8a9452"/>
<path d="M800,3362 C815,3350 830,3330 836,3300 C838,3280 842,3270 848,3272 C858,3280 858,3300 856,3315 C862,3295 872,3272 884,3268 C892,3272 890,3290 880,3310 C872,3322 866,3330 862,3336 C880,3320 900,3308 914,3308 C918,3316 906,3328 892,3336 C904,3336 914,3338 918,3342 C905,3352 880,3360 860,3363Z" fill="#969f66"/>
<path d="M768,3350 C775,3348 782,3346 786,3342 C786,3334 788,3328 790,3332 C794,3328 800,3322 806,3322 C810,3330 808,3340 804,3346 C812,3344 822,3344 826,3348 C822,3356 815,3360 808,3363 H790 C782,3360 774,3356 768,3350Z" fill="#8a9452"/>
<!-- white leaves -->
<ellipse cx="887" cy="3137.500" rx="15" ry="4.500" fill="#fff" transform="rotate(22 887 3137.500)"/>
<ellipse cx="958" cy="3163" rx="16" ry="4.500" fill="#fff" transform="rotate(-22 958 3163)"/>
</g>
<!-- clouds -->
<g fill="#fff">
<path d="M250,2940 V2892 H413 V2940Z M300,2892 H400 V2900 H300Z"/>
<circle cx="368" cy="2888" r="26.500"/><circle cx="332" cy="2889" r="12.500"/><circle cx="316" cy="2892" r="15"/><circle cx="393" cy="2918" r="22"/><rect x="250" y="2876" width="70" height="64"/>
<circle cx="767" cy="3031" r="18"/><circle cx="789" cy="3052.500" r="14"/><circle cx="812" cy="3058" r="15"/><circle cx="742" cy="3046" r="18"/><rect x="712" y="3046" width="104" height="26"/><rect x="724" y="3036" width="60" height="20"/>
</g>
<!-- ground shadow -->
<path d="M147,3400 C300,3391 500,3391 700,3391 C800,3391 900,3394 933,3398 C880,3404 760,3407 600,3407 C400,3407 250,3405 147,3400Z" fill="#979e5c"/>

<!-- scooter -->
<!-- rear wheel -->
<circle cx="530" cy="3322" r="60.500" fill="#1a1a1a"/><circle cx="530" cy="3322" r="43" fill="none" stroke="#555557" stroke-width="6"/>
<!-- rack box -->
<path d="M506,3231 H567 C569,3231 570,3232 570,3234 V3241 H580 C582,3241 583,3242 583,3244 V3275 H506Z" fill="#f4730f"/><path d="M540,3241 H580 C582,3241 583,3242 583,3244 V3275 H540Z" fill="#ff8a0f"/>
<!-- kickstand + bars -->
<path d="M364,3349 L343.500,3379" stroke="#1a1a1a" stroke-width="5" stroke-linecap="round"/>
<rect x="254.500" y="3334" width="205" height="10.500" fill="#1a1a1a"/><rect x="307" y="3344" width="130" height="6" fill="#1a1a1a"/>
<!-- front wheel -->
<circle cx="147" cy="3322.500" r="61.500" fill="#1a1a1a"/><circle cx="147" cy="3322.500" r="47" fill="#3b3b3d"/><circle cx="147" cy="3322.500" r="42.500" fill="#d5d9a2"/><circle cx="147" cy="3322.500" r="29" fill="#3b3b3d"/><circle cx="147" cy="3322.500" r="24" fill="#2b262c"/>
<path d="M123,3301 H172 L158,3333 L136,3328Z" fill="#1a7f8c"/><rect x="141.500" y="3315.500" width="13" height="13" rx="2.500" fill="#55585a" stroke="#1a1a1a" stroke-width="1.500"/>
<!-- rear body + floorboard -->
<path d="M351,3204 L495.500,3204 L495.500,3212 C498,3220 502,3226 506,3228 C520,3232 535,3238 546,3243 C560,3250 572,3260 582,3268.500 C596,3280 608,3290 618.500,3301 C626,3312 632,3330 636,3346.500 L455,3346.500 L455,3335 L253,3335 C240,3330 230,3322 224,3314 L259,3312 C270,3315 285,3315 291,3314.700 C310,3314 325,3314 338.500,3313 C350,3312 358,3310 364,3307.500 C374,3303 380,3298 382,3293 C388,3284 390,3277 389.500,3271 C389,3263 388,3258 385.700,3252.800 C382,3245 377,3240 371,3234.600 C364,3229 359,3225 356.600,3220 C353,3214 352,3209 351,3204Z" fill="#3db5aa"/>
<!-- wheel arch black band -->
<path d="M437,3238 C418,3258 406,3285 404,3318 L406,3346 L470,3346 C440,3340 425,3320 418,3300 C420,3275 428,3255 440,3240Z" fill="#1a1a1a"/>
<path d="M436,3315 C438,3326 446,3336 459,3341" fill="none" stroke="#e8fbf6" stroke-width="1.500"/>
<rect x="556" y="3300" width="31.500" height="5.500" rx="1" fill="#1a1a1a"/><rect x="556" y="3308.500" width="31.500" height="5.500" rx="1" fill="#1a1a1a"/><rect x="556" y="3316.500" width="31.500" height="5.500" rx="1" fill="#1a1a1a"/>
<!-- under seat dark teal -->
<path d="M349,3203 L496,3200 L496,3212 C460,3216 400,3218 357,3221 C353,3215 351,3209 349,3203Z" fill="#1a7f8c"/>
<!-- seat -->
<path d="M336,3205 C338,3192 345,3185 352,3183 C380,3174 420,3170 470,3170 L496,3170 L496,3206 L352,3206Z" fill="#1a1a1a"/>
<!-- leg shield light teal -->
<path d="M220,3123 L256,3130 C254,3146 248,3156 242,3164 C232,3180 222,3196 213,3217 C208,3230 207,3245 209,3256 C212,3275 220,3292 232,3302 C240,3310 250,3314 262,3315 L224,3316 C226,3306 222,3296 216,3288 C210,3278 204,3268 198,3260 C192,3252 186,3246 178,3242 L169,3239 C172,3230 176,3220 180,3210 C185,3197 190,3185 195,3174 C202,3160 208,3148 213,3137Z" fill="#3db5aa"/>
<!-- dark teal inner band -->
<path d="M256,3130 L259,3133 C256,3150 250,3162 245,3172 C238,3186 228,3204 222,3221 C218,3236 220,3250 224,3262 C230,3278 240,3292 254,3301 C262,3307 272,3311 284,3313 L262,3316 C250,3314 240,3310 232,3302 C220,3292 212,3275 209,3256 C207,3245 208,3230 213,3217 C222,3196 232,3180 242,3164 C248,3156 254,3146 256,3130Z" fill="#1a7f8c"/>
<path d="M220,3138.500 L173.600,3221.800" stroke="#f2fffb" stroke-width="1.600"/>
<!-- front fender -->
<path d="M72,3283 C80,3268 92,3260 107,3256 C118,3250 130,3248 140,3247 C150,3245 160,3245 169,3246.500 C178,3247 186,3250 191,3254 C204,3264 214,3280 220,3294 C225,3304 227,3310 226,3316 L222,3316 C214,3306 200,3298 184,3295 C160,3290 130,3292 105,3296 C92,3296 80,3292 72,3283Z" fill="#1a7f8c"/>
<path d="M74,3279 C80,3268 88,3260 97,3256 C108,3250 120,3246 133,3243 C146,3240 158,3239 169,3239 C176,3240 182,3243 186,3247 C180,3246 174,3246 169,3246.500 C160,3245 150,3245 140,3247 C130,3248 118,3251 107,3257 C94,3262 84,3270 74,3279Z" fill="#3db5aa"/>
<!-- headlight + handlebar -->
<path d="M226,3082 L236,3084 C246,3088 254,3098 256,3112 L256,3131 L221,3123 L226,3121Z" fill="#3db5aa"/>
<path d="M236,3104 C244,3104 252,3108 256,3114 L256,3131 L221,3123 L226,3121 C228,3112 230,3106 236,3104Z" fill="#1a7f8c"/>
<rect x="216.500" y="3081" width="6" height="41.500" rx="2.500" fill="#1a1a1a"/><rect x="218.500" y="3082.500" width="7.500" height="38.500" rx="1" fill="#f4820f"/>
<circle cx="262" cy="3122" r="11.500" fill="#1a1a1a"/>
<path d="M253.500,3024 C246,3030 243,3040 243,3046 C243,3054 246,3060 253.500,3064Z" fill="#1a1a1a"/>
<path d="M245,3050 C241,3065 243,3080 253,3099" fill="none" stroke="#1a1a1a" stroke-width="2"/>

<!-- gift box -->
<rect x="535.500" y="3000" width="102.500" height="52" fill="#ff8a0f"/><rect x="535.500" y="3002" width="102.500" height="7" fill="#f4730f"/>
<rect x="532.700" y="2977.300" width="106.500" height="25" fill="#ff8a0f"/>
<rect x="626" y="2977.300" width="13.200" height="74.700" fill="#b8140f"/>
<rect x="576.400" y="2977.300" width="6.200" height="74.700" fill="#fff"/>
<!-- arrows -->
<path d="M517.300,3107 L555.600,3090 V3100 H646 V3109.500 H517.300Z" fill="#f6830f"/>
<path d="M517.300,3118.500 H646 L607.800,3138.800 V3128 H517.300Z" fill="#3db5aa"/>

<!-- man back leg -->
<path d="M432,3170 L447,3170 C455,3215 458,3250 450,3296 L424,3340 L398,3335 C408,3290 425,3250 434,3225Z" fill="#b8140f"/>
<!-- back shoe -->
<path d="M399,3336 L421,3341 L416,3356 L395,3350Z" fill="#f1eec9"/>
<path d="M393,3351 L412,3349 L449,3386 L452,3401 L388,3376 C386,3368 389,3358 393,3351Z" fill="#c01f1a"/>
<path d="M436,3388 L452,3401 L449,3386 C445,3384 440,3385 436,3388Z" fill="#f1eec9"/><circle cx="400" cy="3364" r="6" fill="#f1eec9"/>
<path d="M416,3364 l7,-5 M421,3370 l7,-5 M426,3376 l7,-5" stroke="#f1eec9" stroke-width="2"/>
<!-- man front leg / pants -->
<path d="M433,3104 L495.500,3102 V3345 L459,3345 L447,3240 C444,3215 436,3200 430,3175 C424,3150 426,3125 433,3104Z" fill="#f4730f"/>
<path d="M432,3104 C425,3122 422,3140 425,3158 C427,3172 431,3186 436,3200" fill="none" stroke="#1a1a1a" stroke-width="4.500"/>
<path d="M456,3142 C468,3138 476,3128 480,3116" fill="none" stroke="#ffd08a" stroke-width="1.200"/>
<!-- seat front bit -->
<path d="M495.500,3173 C502,3176 508,3186 508,3196 C507,3204 502,3206 495.500,3205Z" fill="#1a1a1a"/>
<!-- front ankle, sock, shoe -->
<rect x="468" y="3343" width="24" height="14" fill="#f9c49a"/>
<path d="M466,3354 H492 V3370 H464Z" fill="#f1eec9"/>
<path d="M465,3369 L492,3367 L534,3389 L538,3398 H467Z" fill="#c01f1a"/>
<path d="M520,3391 L534,3389 L538,3398 H518Z" fill="#f1eec9"/><circle cx="476" cy="3381" r="6" fill="#f1eec9"/>
<path d="M492,3378 l5,-6 M498,3381 l5,-6 M504,3384 l5,-6" stroke="#f1eec9" stroke-width="2"/>
<!-- man torso -->
<path d="M444.800,2966.600 L470,2975 C474,2977 477,2979 479.800,2982 C486,2990 491,3000 495,3010 C497,3015 498,3020 498.600,3024 C498,3034 497,3043 496.600,3052 L495.800,3093 L437.800,3093 C435,3084 433,3075 430.800,3066 C428,3057 426,3049 423.800,3040.800 C422,3033 421,3025 421,3018 C422,3011 423,3005 425,2998.800 C427,2992 430,2987 433.600,2982 C437,2976 441,2971 444.800,2966.600Z" fill="#ff8a0f"/>
<path d="M427,2996 C423,3004 421,3011 421,3018 C421,3025 422,3033 423.800,3040.800 C426,3049 428,3057 430.800,3066 L437.800,3093 L445,3093 C441,3080 437,3068 434,3052 C431,3040 428,3026 428,3014 C427,3008 427,3002 427,2996Z" fill="#b8140f"/>
<!-- belt -->
<path d="M437.500,3092.500 L495.800,3092.500 V3102.500 L435,3104Z" fill="#b8140f"/>
<!-- arm -->
<path d="M433.600,3019.800 C438,3026 444,3034 449,3042 C455,3052 461,3062 467,3071.700 C471,3077 476,3081 481,3083 C486,3084.500 491,3084.500 495.800,3084 L495.800,3076 L470,3060 L444.800,3033.800Z" fill="#1a1a1a"/>
<path d="M444.800,3033.800 L474.200,3017.900 L492.500,3053.500 L540,3043.600 C548,3036 555,3030 560.200,3024 L561,3031.500 L573.500,3032 C578,3033 581,3035 580.700,3038 C581,3041 578,3044 576.500,3045 C574,3048 570,3051 568,3052 L543,3053.500 L492.500,3080 C487,3080 480,3079 475.600,3077.300 C470,3072 465,3066 461.600,3060.400 C456,3051 450,3042 444.800,3033.800Z" fill="#f9c49a"/>
<!-- neck, face, helmet -->
<path d="M445.900,2951 L449.800,2948 L458.600,2957.800 L470,2964.700 L470.400,2975.500 L442.900,2965.700Z" fill="#fdc193"/>
<path d="M449.800,2948 L456.700,2944 L469.400,2952 L470,2964.700 L458.600,2957.800Z" fill="#1a1a1a"/>
<path d="M458.600,2919 L481.200,2912.700 C483,2916 485,2919 486,2922.500 C488,2924 490,2925 492,2926.500 C492,2930 491.500,2933 491,2936.300 C490,2940 488.500,2943 487,2946 C483,2948 478,2949.500 474.300,2950 L464.500,2942 L459,2940Z" fill="#fdc193"/>
<path d="M456.700,2946 L464.500,2942 L473.300,2951 C478,2950.500 482,2949.500 485,2948.500 L474.300,2951.500 C470,2951.500 466,2950 462,2948.500Z" fill="#c8814f"/>
<path d="M462.500,2916.700 C468,2914 476,2911 482.200,2907.800 L476.300,2912.700 L464.500,2918.600Z" fill="#1a1a1a"/>
<path d="M461.500,2917.600 C459,2921 458.500,2924 458.600,2927 L459.600,2940 L464.500,2942 M464.500,2917.600 L465.500,2941 L473.300,2951" fill="none" stroke="#1a1a1a" stroke-width="1.300"/>
<path d="M411.600,2895 C414,2888 417,2883 421.400,2879.400 C429,2874 438,2871 446.900,2870.600 C455,2870.500 462,2872 468.400,2874.500 C475,2877.500 480,2882 484,2887 C487,2891 489,2895 490,2899 L489,2905 C485,2907 480,2909 476.300,2910.800 C471,2912.500 466,2914.500 462.500,2916.700 C460,2919 459,2921.500 458.600,2924.500 C458.500,2929 459,2933 459.600,2936.300 C459,2940 457,2943.500 454.700,2946 C452,2948.500 448,2950 444.900,2951 C441,2951 438,2950 435,2949 C429,2946 423,2941.500 419.400,2936.300 C416,2931 414,2925 412.500,2918.600 C411,2914 410.500,2909 410.600,2905 C410.500,2901 411,2898 411.600,2895Z" fill="#f4730f"/>
<path d="M411.600,2895 C409,2899 408,2904 407.600,2908.800 C407.500,2914 408,2919 408.600,2924.500 C410,2931 413,2937 417.500,2942 C423,2948 430,2952 437,2954 C440,2954.500 443,2953 445.900,2951 C442,2951.500 438,2950.500 435,2949 C429,2946 423,2941.500 419.400,2936.300 C416,2931 414,2925 412.500,2918.600 C411,2914 410.500,2909 410.600,2905 C410.500,2901 411,2898 411.600,2895Z" fill="#c41a10"/>
<circle cx="440" cy="2928.400" r="12.700" fill="#eff0c4"/>

<!-- woman -->
<!-- leg + shoe -->
<path d="M698.700,3250 L728,3250 C729,3262 729.500,3274 730,3284 C731,3298 731.500,3312 732,3326 C733,3334 733.500,3340 734,3347 L728,3360 L705,3376.500 C709,3360 713,3343 715.500,3326 C714,3312 711,3298 707,3284 C704,3272 701,3262 698.700,3250Z" fill="#fcc294"/>
<path d="M677.600,3397.500 C681,3393 685,3388 690,3385 C695,3382 700,3380 705,3378.600 C713,3373 721,3367 728,3361.800 C730,3357 732,3352 734.400,3349.200 C737,3351 739,3354 739.800,3357.600 C740.500,3363 740,3368 739.500,3374 L737,3397.500 H728.500 V3372.300 C725,3378 720,3383 715.500,3387 C711,3391 707,3395 702.900,3397.500Z" fill="#181818"/>
<!-- dress skirt -->
<path d="M668.200,3085 L712,3078 C718,3090 725,3104 735,3118 C746,3132 758,3143 771.700,3151 C786,3160 800,3164 815.500,3169.500 C828,3174 838,3180 846,3186 L830,3200 L822,3222 C808,3226 794,3226 780,3230 C770,3236 762,3243 753.400,3248 C744,3254 735,3256 726.700,3255 C716,3252 708,3249 700,3248 C690,3248 680,3251 671.300,3253 C669,3220 668,3180 669.600,3146 C671,3130 672,3120 672.400,3109.600Z" fill="#ff8a0f"/>
<path d="M732,3103 C740,3125 752,3140 764,3151 C778,3160 792,3163 807,3167 C820,3172 834,3180 846,3186 C842,3192 836,3198 833,3207 C822,3200 812,3195 801,3191 C790,3187 778,3182 769,3175 C756,3162 746,3146 740,3129Z" fill="#f4730f"/>
<path d="M671.300,3249.500 C680,3246 690,3244.500 700,3244.500 C708,3246 716,3249 726.700,3251 C735,3252 744,3250 753.400,3245 C762,3240 770,3233 780,3227.500 C794,3223 808,3224 820,3219 C822,3210 823,3202 825.400,3196 C830,3191 837,3188 844,3186.500 C851,3187.500 856,3191 860,3196 C865,3200 867,3205 866.500,3209.400 C866.500,3216 864,3221 860,3225.400 C853,3232 846,3236 838.700,3236.500 C828,3235 818,3231 806.700,3231.500 C796,3232 788,3234 780,3237 C772,3243 766,3250 758.700,3255.500 C748,3261 738,3262 726.700,3260.500 C716,3258 708,3255 700,3253 C690,3253 680,3256 671.300,3258.500Z" fill="#181818"/>
<ellipse cx="847" cy="3190" rx="8.500" ry="2.800" fill="#fff" transform="rotate(-20 847 3190)"/>
<!-- hair back -->
<path d="M664,2941.800 C659,2939 656,2936 655.600,2932 C653,2928 653,2924 655,2920.800 C656,2917 658,2915 661.200,2913.800 C664,2911 668,2910.500 672.400,2911 C674,2908 677,2906.500 680.800,2905.400 C685,2902.500 690,2901.200 694.800,2901.200 C699,2901 703,2901.800 706,2903.400 C710,2905.500 713,2908.500 714.500,2912.400 C716,2916 718,2920 720,2923.600 C722,2928 725,2931.500 728.500,2934.800 C733,2938 737,2942 739.700,2946 C742,2951 744,2957 745.300,2962.800 C749,2968 755,2972 759.300,2976.800 C763,2982 765,2988 765.400,2993.600 C766.500,2999 766,3005 764.900,3010.400 C763.500,3017 760.500,3023 756.500,3027.300 C752.500,3031 748,3033 742.500,3033.400 C737.500,3033.500 732.500,3032.500 728.500,3030 C724.500,3027 721.500,3023 720,3018.800 C718.500,3013 717.800,3008 717.300,3002 C716,2996 714,2990 711.700,2985.200 C710,2981 708,2977 706,2974 L700,2962 L688,2948Z" fill="#181818"/>
<!-- neck -->
<path d="M693.500,2986.600 L706,2974 C708,2979 710,2983 711.700,2985.200 L714.500,2994.200 L700.400,2993.600 L692,2995.900Z" fill="#fcc48e"/>
<path d="M692,2979.600 L703.200,2964.800 L706,2974 L700.400,2985.200 L693.500,2986.600Z" fill="#181818"/>
<!-- face -->
<path d="M664,2941.800 L666.800,2946 L669.600,2958.600 L667.700,2964.200 L672.400,2967 C674,2970 676,2972 678,2974 C680,2976 682.500,2978 685,2979 C688,2979.500 690,2979 692,2978.200 C695,2976 697,2973 699,2969.800 L703.200,2962.800 L700.400,2950.200 L696.200,2944.600 L689.200,2946.600 L675.200,2944.900Z" fill="#fcc48e"/>
<path d="M685,2979 C688,2979.500 690,2979 692,2978.200 C695,2976 697,2973 699,2969.800" fill="none" stroke="#c47a45" stroke-width="1.200"/>
<path d="M664,2941.800 C668,2944 672,2945 675.200,2944.900 C680,2946 685,2946.800 689.200,2946 C692,2945.600 694.500,2944.800 696.200,2944.600 L700.400,2950.200 L703.200,2962.800 L706,2945 L700,2935 L680,2930Z" fill="#181818"/>
<path d="M669,2941 C675,2944 683,2946.500 692,2947" fill="none" stroke="#181818" stroke-width="1"/>
<path d="M703.200,2941.800 C705,2939 708,2937.500 710.500,2938 C713,2939 714,2942 713.900,2945 C713.500,2949 712,2952 710,2954 C708,2956 705.500,2956.500 703.200,2953Z" fill="#fcc48e"/>
<path d="M707,2943 C709,2943 710,2946 708,2950" fill="none" stroke="#d89060" stroke-width="0.800"/>
<!-- dress top -->
<path d="M692,2995.900 L700.400,2993.600 L714.500,2994.200 C716,2998 717,3000 717.300,3002 L721.500,3021.600 L718.700,3041.200 L713,3060 L712,3092 L668.200,3092 L668.200,3050.800 L668.200,3049.600 C664,3046 660,3042 658.400,3039.800 C657,3036 656.500,3033 657,3030 C658,3027 660,3024 664,3021.600 L678,3007.600 L689.200,2997.800Z" fill="#ff8a0f"/>
<path d="M657,3033 C658,3038 660,3042 664,3044 C667,3046 670,3047 672.400,3047" fill="none" stroke="#d9700c" stroke-width="1.200"/>
<!-- black band -->
<path d="M721.500,3028.400 L711.600,3076 L700.400,3096.200 L668.200,3085 L668.200,3083 L694.800,3087.500 L707.500,3073.200 L717.300,3042.400Z" fill="#181818"/>
<!-- arm -->
<path d="M687.800,3039.600 L711.600,3046.600 C710,3058 706,3068 702,3076 C700,3081 697.500,3085 694.800,3087.200 C685,3086.500 674,3085 664,3083 C652,3079.500 641,3076 630,3071.800 C621,3066.500 612,3061 605,3056.400 C600,3054 596,3052 592.600,3049.400 C591.500,3047 592,3045 594,3043.800 C598,3042.500 603,3043 607,3044.500 C610,3045 612,3046 614,3047 L612,3039.500 C612.500,3037.500 614,3037.500 615,3038 C618,3041 620,3044.500 622,3048 C625,3053 629,3058.500 633,3063.400 C650,3065 668,3066.500 685,3067.600Z" fill="#fcc48e"/>
</svg>
<!-- /COUPLE -->

<!-- footer -->
<div class="c ft" style="top:3532.5px;left:0px"><span style="margin-right:-2px">（</span>数据来源<span style="margin-right:-21px">：</span>2021年深圳邮政行业发展统计公报、</div>
<div class="c ft" style="top:3590.5px;left:10px">2021年深圳市邮政行业运行情况）</div>
<!-- LOGOS -->
<svg width="1081" height="100" viewBox="0 3680 1081 100" style="top:3680px">
<defs>
<linearGradient id="dtg" x1="0" x2="0" y1="0" y2="1"><stop offset="0" stop-color="#ee2a36"/><stop offset="1" stop-color="#c4161f"/></linearGradient>
<linearGradient id="gr1" x1="0" x2="1" y1="0" y2="1"><stop offset="0" stop-color="#a6d94a"/><stop offset="0.5" stop-color="#5fb030"/><stop offset="1" stop-color="#2f7a22"/></linearGradient>
<linearGradient id="gr2" x1="0" x2="1" y1="0" y2="0"><stop offset="0" stop-color="#1f5a1a"/><stop offset="1" stop-color="#4f9a2c"/></linearGradient>
</defs>
<!-- Shenzhen Special Zone Daily -->
<g fill="none" stroke="#e83a3a">
<circle cx="224.800" cy="3725" r="17" stroke-width="1.200"/>
<circle cx="224.800" cy="3725" r="12.500" stroke-width="3"/>
</g>
<path d="M229,3717 C224,3715 219,3717 219,3721 C219,3724 222,3725 225,3725.500 C228,3726 230,3727.500 229.500,3730 C229,3733 224,3734 220,3732" fill="none" stroke="#e83a3a" stroke-width="3.200" stroke-linecap="round"/>
<g transform="translate(252,3741) skewX(-9)"><text x="0" y="0" font-family="'Liberation Serif','Noto Serif CJK SC',serif" font-weight="900" font-size="37" fill="#e83a3a" textLength="176" lengthAdjust="spacingAndGlyphs" transform="scale(1,1.12)">深圳特區報</text></g>
<!-- Dute -->
<rect x="473" y="3700.800" width="50.200" height="50" rx="11" fill="url(#dtg)"/>
<text x="498.100" y="3733.500" text-anchor="middle" font-family="'Liberation Serif','Noto Serif CJK SC',serif" font-weight="900" font-size="21.500" fill="#fff" textLength="43" lengthAdjust="spacingAndGlyphs">读特</text>
<rect x="481.500" y="3740.500" width="34" height="8.200" rx="4.100" fill="#fff"/>
<text x="498.500" y="3747" text-anchor="middle" font-family="'Liberation Serif','Noto Serif CJK SC',serif" font-weight="700" font-size="6.200" fill="#b5161d" textLength="26" lengthAdjust="spacing">深圳门户</text>
<text x="531.500" y="3725" font-family="'Liberation Sans','Noto Sans CJK SC',sans-serif" font-weight="700" font-size="17.600" fill="#fff" textLength="123.300" lengthAdjust="spacing">改革开放第一端</text>
<text x="531.500" y="3741.600" font-family="'Liberation Sans','Noto Sans CJK SC',sans-serif" font-size="8.500" fill="#fff" fill-opacity="0.92" textLength="44.500" lengthAdjust="spacing">读懂深圳</text>
<text x="588" y="3741.600" font-family="'Liberation Sans','Noto Sans CJK SC',sans-serif" font-size="8.500" fill="#fff" fill-opacity="0.92" textLength="65.600" lengthAdjust="spacing">读懂未来中国</text>
<!-- sznews -->
<path d="M694,3722 C694,3712 704,3704 718,3704 C730,3704 742,3707 748,3711.500 C738,3713 730,3718 727,3726 C724,3735 727,3745 731,3750 C728,3754 722,3753 718,3750 C706,3742 694,3733 694,3722Z" fill="url(#gr1)"/>
<path d="M748,3711.500 C738,3713 730,3718 727,3726 C724,3735 727,3745 731,3750 C722,3744 716,3736 716,3727 C717,3718 726,3710 748,3711.500Z" fill="url(#gr2)"/>
<path d="M697,3718 C702,3709 714,3705.500 728,3707" fill="none" stroke="#d6f08a" stroke-opacity="0.7" stroke-width="1.500"/>
<text x="748.400" y="3729.500" font-family="'Liberation Sans','Noto Sans CJK SC',sans-serif" font-weight="400" font-size="21.700" fill="#fff" textLength="108.800" lengthAdjust="spacing">深圳新闻网</text>
<text x="748.400" y="3747.500" font-family="'Liberation Sans',sans-serif" font-weight="700" font-size="21.500" fill="#fff" textLength="67" lengthAdjust="spacingAndGlyphs">sznews</text>
<text x="815.800" y="3747.500" font-family="'Liberation Sans',sans-serif" font-weight="400" font-size="21.500" fill="#fff" textLength="41.500" lengthAdjust="spacingAndGlyphs">.com</text>
</svg>
<!-- /LOGOS -->
<div class="c" style="top:3791.5px;font-size:30.5px;line-height:40px;color:#fff;font-weight:400;letter-spacing:14.3px;text-indent:14.3px">读特融媒实验室出品</div>
</div>
</body>
</html>
